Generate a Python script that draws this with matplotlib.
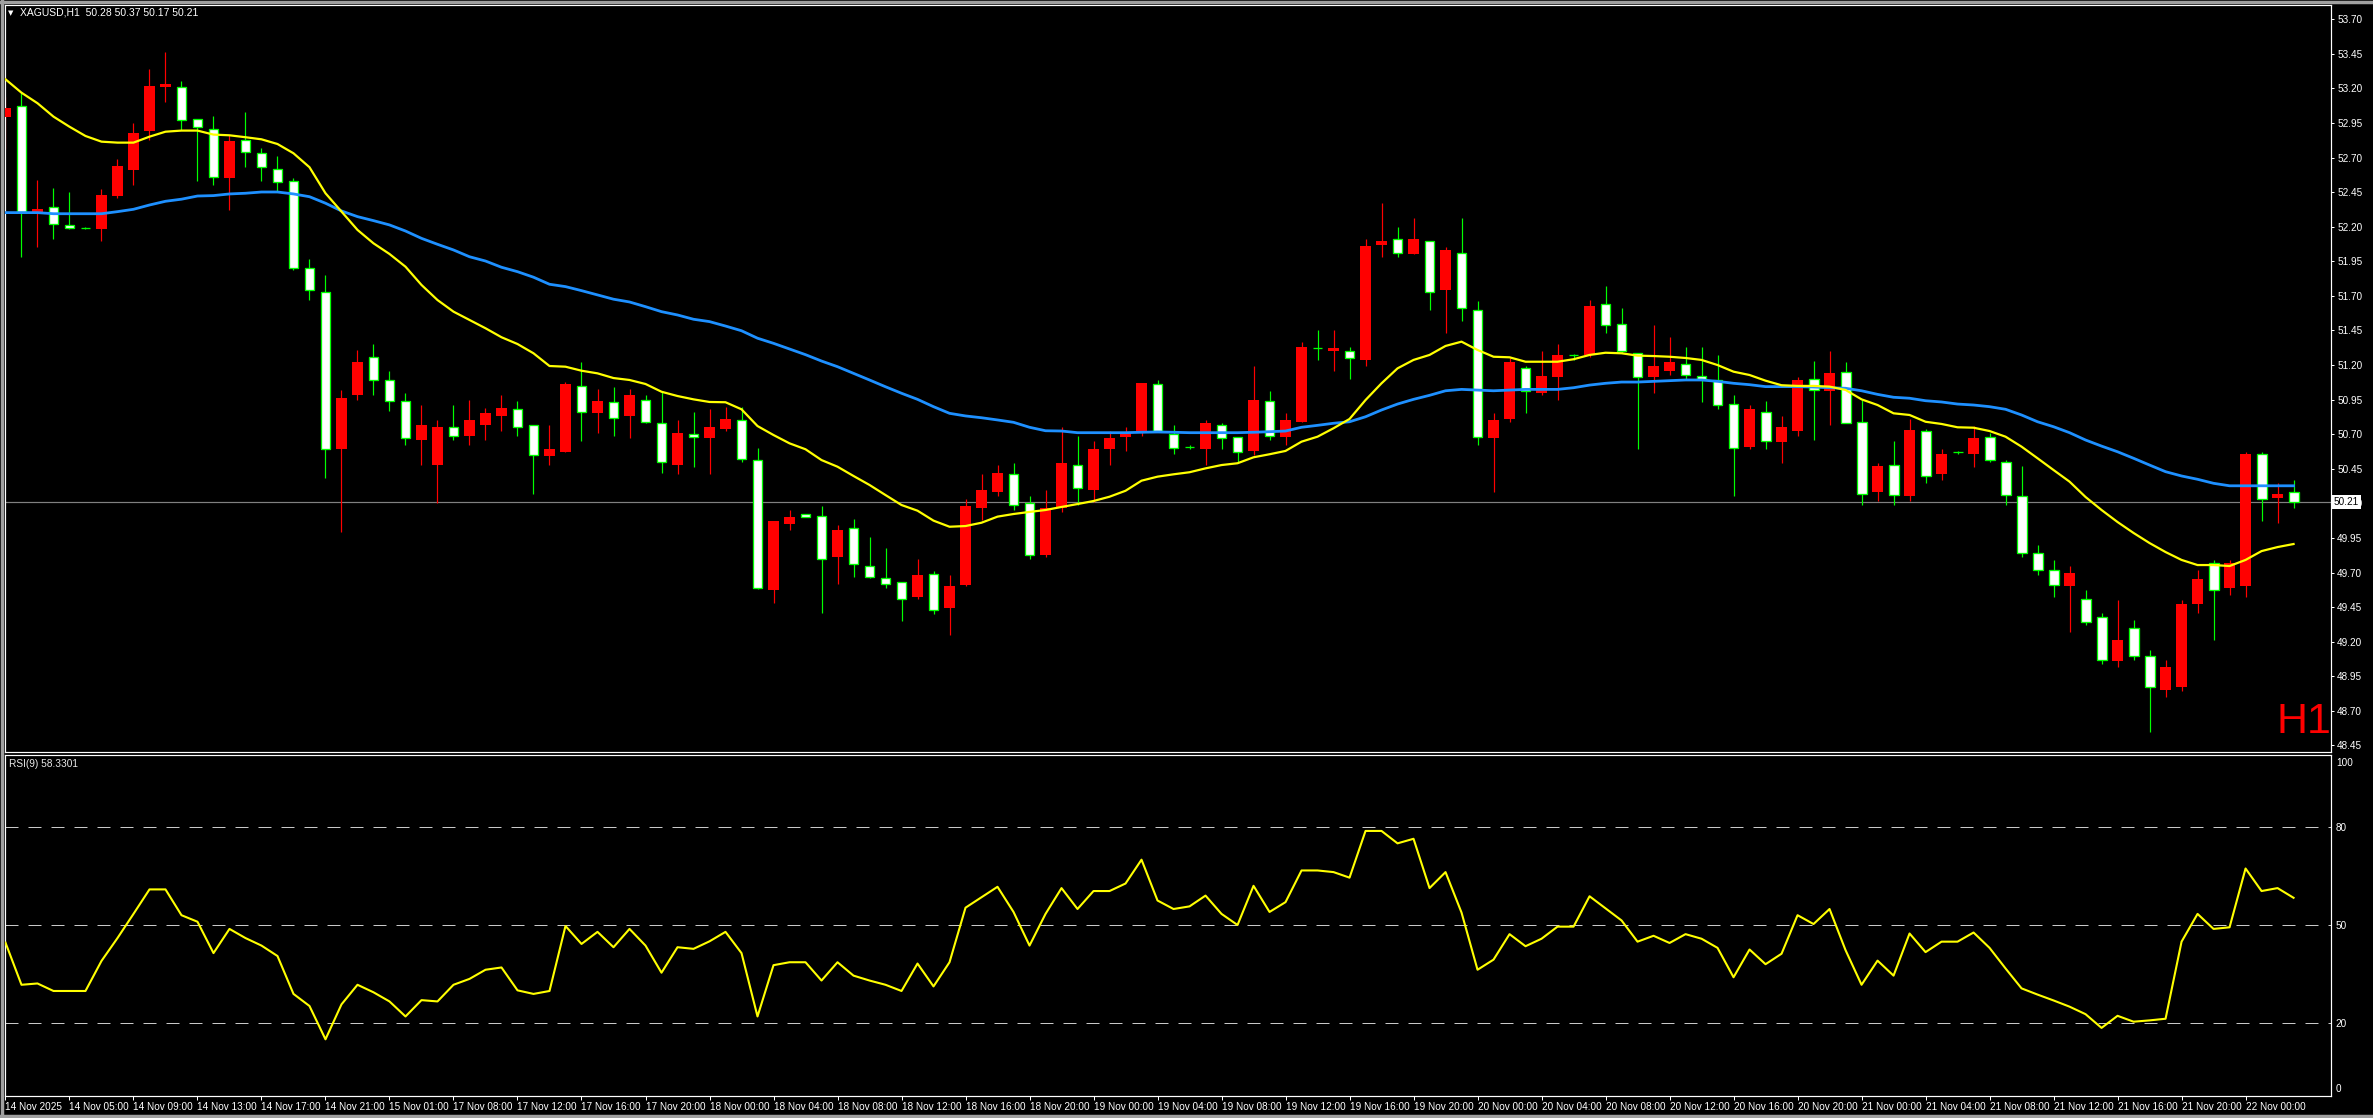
import matplotlib.pyplot as plt
from matplotlib.lines import Line2D
import numpy as np

plt.rcParams['font.family'] = ['Liberation Sans Narrow', 'Liberation Sans', 'DejaVu Sans']
plt.rcParams['font.size'] = 7.2

W, H = 2373, 1118
px = 72 / 100  # one pixel in points

# XAGUSD H1 candles, 14 Nov 01:00 .. 22 Nov 03:00
opens = [52.99, 53.07, 52.31, 52.34, 52.21, 52.19, 52.18, 52.42, 52.61, 52.89,
         53.21, 53.21, 52.98, 52.91, 52.55, 52.83, 52.73, 52.62, 52.53, 51.90,
         51.73, 50.59, 50.98, 51.26, 51.09, 50.94, 50.66, 50.48, 50.75, 50.69,
         50.77, 50.83, 50.88, 50.77, 50.54, 50.57, 51.05, 50.85, 50.93, 50.83,
         50.95, 50.78, 50.48, 50.70, 50.67, 50.74, 50.80, 50.51, 49.57, 50.05,
         50.12, 50.11, 49.81, 50.02, 49.75, 49.66, 49.63, 49.52, 49.69, 49.44,
         49.61, 50.17, 50.28, 50.41, 50.20, 49.83, 50.17, 50.48, 50.30, 50.59,
         50.68, 50.72, 51.06, 50.70, 50.61, 50.59, 50.77, 50.68, 50.58, 50.94,
         50.68, 50.79, 51.32, 51.30, 51.30, 51.24, 52.07, 52.11, 52.00, 52.10,
         51.74, 52.01, 51.60, 50.67, 50.81, 51.18, 51.00, 51.11, 51.27, 51.27,
         51.64, 51.50, 51.29, 51.11, 51.16, 51.21, 51.12, 51.09, 50.92, 50.61,
         50.86, 50.64, 50.72, 51.10, 51.01, 51.15, 50.79, 50.28, 50.48, 50.25,
         50.72, 50.41, 50.57, 50.56, 50.68, 50.50, 50.25, 49.84, 49.72, 49.60,
         49.51, 49.38, 49.06, 49.30, 49.10, 48.85, 48.87, 49.47, 49.77, 49.59,
         49.60, 50.56, 50.24, 50.28]
highs = [53.14, 53.17, 52.54, 52.48, 52.45, 52.20, 52.47, 52.69, 52.95, 53.34,
         53.46, 53.25, 52.98, 53.00, 52.86, 53.03, 52.77, 52.71, 52.55, 51.97,
         51.85, 51.02, 51.31, 51.35, 51.16, 51.00, 50.91, 50.80, 50.91, 50.95,
         50.89, 50.98, 50.94, 50.77, 50.77, 51.08, 51.22, 51.03, 51.04, 51.03,
         50.98, 51.01, 50.80, 50.86, 50.88, 50.90, 50.90, 50.60, 50.07, 50.15,
         50.12, 50.18, 50.04, 50.09, 49.96, 49.88, 49.63, 49.80, 49.71, 49.68,
         50.23, 50.41, 50.48, 50.49, 50.25, 50.30, 50.75, 50.69, 50.65, 50.72,
         50.75, 51.07, 51.09, 50.77, 50.62, 50.80, 50.78, 50.68, 51.19, 51.01,
         50.85, 51.37, 51.45, 51.45, 51.33, 52.11, 52.37, 52.20, 52.26, 52.10,
         52.05, 52.26, 51.66, 50.85, 51.25, 51.19, 51.30, 51.35, 51.28, 51.67,
         51.77, 51.61, 51.29, 51.49, 51.40, 51.33, 51.33, 51.27, 50.98, 50.91,
         50.94, 50.83, 51.11, 51.23, 51.30, 51.22, 50.95, 50.49, 50.65, 50.81,
         50.74, 50.59, 50.58, 50.76, 50.71, 50.51, 50.47, 49.90, 49.79, 49.75,
         49.57, 49.41, 49.50, 49.36, 49.14, 49.07, 49.50, 49.72, 49.79, 49.79,
         50.57, 50.57, 50.35, 50.37]
lows = [52.76, 51.98, 52.05, 52.11, 52.18, 52.18, 52.10, 52.41, 52.50, 52.83,
        53.10, 52.90, 52.53, 52.50, 52.32, 52.63, 52.53, 52.45, 51.89, 51.67,
        50.38, 49.99, 50.95, 50.98, 50.87, 50.62, 50.48, 50.20, 50.66, 50.62,
        50.66, 50.72, 50.69, 50.27, 50.48, 50.57, 50.65, 50.71, 50.69, 50.67,
        50.78, 50.42, 50.41, 50.46, 50.41, 50.72, 50.50, 49.58, 49.48, 50.01,
        50.10, 49.41, 49.62, 49.67, 49.66, 49.59, 49.35, 49.51, 49.40, 49.25,
        49.60, 50.08, 50.25, 50.15, 49.80, 49.81, 50.14, 50.19, 50.21, 50.48,
        50.58, 50.69, 50.72, 50.56, 50.59, 50.48, 50.59, 50.50, 50.55, 50.66,
        50.62, 50.79, 51.24, 51.16, 51.10, 51.19, 51.98, 51.98, 52.00, 51.60,
        51.43, 51.52, 50.62, 50.28, 50.79, 50.85, 50.98, 50.95, 51.24, 51.26,
        51.43, 51.29, 50.59, 51.00, 51.13, 51.09, 50.93, 50.88, 50.25, 50.59,
        50.59, 50.49, 50.69, 50.66, 50.77, 50.78, 50.19, 50.22, 50.19, 50.22,
        50.35, 50.37, 50.56, 50.46, 50.50, 50.19, 49.81, 49.68, 49.52, 49.27,
        49.32, 49.04, 49.02, 49.07, 48.55, 48.80, 48.84, 49.41, 49.21, 49.54,
        49.52, 50.07, 50.06, 50.17]
closes = [53.06, 52.31, 52.33, 52.22, 52.19, 52.19, 52.43, 52.64, 52.88, 53.22,
          53.23, 52.97, 52.92, 52.56, 52.82, 52.74, 52.63, 52.52, 51.90, 51.74,
          50.59, 50.96, 51.22, 51.09, 50.94, 50.67, 50.77, 50.75, 50.69, 50.80,
          50.85, 50.89, 50.75, 50.55, 50.59, 51.06, 50.86, 50.94, 50.82, 50.98,
          50.79, 50.50, 50.71, 50.68, 50.75, 50.81, 50.52, 49.59, 50.07, 50.10,
          50.10, 49.80, 50.01, 49.76, 49.67, 49.62, 49.51, 49.68, 49.43, 49.60,
          50.18, 50.30, 50.42, 50.19, 49.83, 50.17, 50.49, 50.31, 50.59, 50.67,
          50.71, 51.07, 50.72, 50.60, 50.61, 50.78, 50.67, 50.57, 50.95, 50.69,
          50.80, 51.33, 51.32, 51.32, 51.25, 52.06, 52.10, 52.01, 52.11, 51.73,
          52.03, 51.61, 50.68, 50.80, 51.22, 51.01, 51.12, 51.27, 51.27, 51.63,
          51.49, 51.30, 51.11, 51.19, 51.22, 51.13, 51.10, 50.91, 50.60, 50.88,
          50.65, 50.75, 51.09, 51.02, 51.14, 50.78, 50.27, 50.47, 50.26, 50.73,
          50.40, 50.56, 50.57, 50.67, 50.51, 50.26, 49.84, 49.72, 49.61, 49.70,
          49.34, 49.07, 49.21, 49.10, 48.87, 49.02, 49.47, 49.65, 49.57, 49.77,
          50.56, 50.23, 50.27, 50.21]

# moving averages as drawn on the chart (yellow fast, blue slow)
ma_fast = [53.266, 53.169, 53.093, 52.996, 52.923, 52.856, 52.815, 52.808, 52.808, 52.851,
           52.887, 52.895, 52.895, 52.866, 52.861, 52.847, 52.832, 52.798, 52.731, 52.630,
           52.442, 52.309, 52.177, 52.080, 52.003, 51.911, 51.779, 51.670, 51.586, 51.526,
           51.466, 51.401, 51.352, 51.285, 51.193, 51.188, 51.159, 51.140, 51.106, 51.092,
           51.063, 51.007, 50.976, 50.952, 50.933, 50.931, 50.880, 50.759, 50.694, 50.634,
           50.591, 50.513, 50.465, 50.398, 50.333, 50.260, 50.188, 50.147, 50.075, 50.031,
           50.036, 50.060, 50.104, 50.123, 50.138, 50.152, 50.174, 50.195, 50.217, 50.248,
           50.291, 50.364, 50.393, 50.410, 50.425, 50.453, 50.477, 50.490, 50.533, 50.555,
           50.579, 50.646, 50.682, 50.743, 50.810, 50.947, 51.068, 51.176, 51.237, 51.273,
           51.338, 51.369, 51.309, 51.260, 51.256, 51.224, 51.224, 51.224, 51.242, 51.273,
           51.289, 51.285, 51.268, 51.265, 51.260, 51.251, 51.237, 51.200, 51.152, 51.128,
           51.087, 51.054, 51.049, 51.049, 51.044, 51.020, 50.952, 50.911, 50.851, 50.839,
           50.790, 50.774, 50.750, 50.747, 50.723, 50.682, 50.610, 50.526, 50.441, 50.357,
           50.246, 50.152, 50.065, 49.986, 49.913, 49.848, 49.791, 49.754, 49.754, 49.747,
           49.791, 49.855, 49.884, 49.906]
ma_slow = [52.302, 52.302, 52.302, 52.294, 52.294, 52.294, 52.294, 52.309, 52.326, 52.357,
           52.384, 52.399, 52.422, 52.425, 52.437, 52.442, 52.451, 52.451, 52.437, 52.417,
           52.370, 52.314, 52.273, 52.244, 52.213, 52.169, 52.116, 52.073, 52.032, 51.983,
           51.952, 51.907, 51.875, 51.835, 51.784, 51.767, 51.738, 51.707, 51.676, 51.656,
           51.622, 51.586, 51.562, 51.531, 51.514, 51.482, 51.448, 51.394, 51.357, 51.316,
           51.275, 51.229, 51.188, 51.140, 51.092, 51.043, 50.996, 50.952, 50.899, 50.851,
           50.832, 50.819, 50.803, 50.786, 50.750, 50.725, 50.723, 50.711, 50.711, 50.711,
           50.711, 50.714, 50.716, 50.714, 50.711, 50.711, 50.711, 50.711, 50.714, 50.718,
           50.723, 50.750, 50.764, 50.779, 50.790, 50.826, 50.875, 50.918, 50.952, 50.981,
           51.014, 51.024, 51.019, 51.014, 51.019, 51.024, 51.024, 51.024, 51.036, 51.055,
           51.068, 51.077, 51.077, 51.082, 51.087, 51.092, 51.092, 51.082, 51.068, 51.058,
           51.044, 51.044, 51.044, 51.041, 51.036, 51.032, 51.014, 50.988, 50.967, 50.960,
           50.942, 50.933, 50.918, 50.911, 50.899, 50.880, 50.839, 50.790, 50.754, 50.711,
           50.658, 50.614, 50.573, 50.526, 50.477, 50.429, 50.398, 50.374, 50.345, 50.327,
           50.327, 50.327, 50.327, 50.327]

rsi = [44.6, 31.7, 32.1, 29.8, 29.8, 29.8, 39.0, 46.0, 53.4, 60.9,
       60.9, 53.0, 51.0, 41.4, 48.8, 46.0, 43.7, 40.5, 28.9, 25.2,
       15.0, 25.7, 31.7, 29.4, 26.6, 22.0, 27.0, 26.6, 31.7, 33.5,
       36.3, 37.0, 30.0, 28.9, 29.8, 49.7, 44.2, 47.9, 43.2, 48.8,
       43.7, 35.4, 43.2, 42.7, 45.0, 47.9, 41.4, 22.0, 37.7, 38.6,
       38.6, 33.0, 38.6, 34.5, 33.0, 31.7, 29.8, 38.2, 31.2, 38.6,
       55.3, 58.5, 61.7, 54.0, 43.7, 53.4, 61.3, 54.9, 60.4, 60.4,
       62.7, 70.0, 57.5, 54.9, 55.7, 59.0, 53.4, 50.0, 62.0, 54.0,
       57.0, 66.7, 66.7, 66.2, 64.5, 78.8, 78.8, 75.0, 76.4, 61.3,
       66.2, 53.8, 36.3, 39.4, 47.2, 43.5, 45.8, 49.5, 49.5, 58.8,
       55.1, 51.4, 44.9, 46.7, 44.5, 47.2, 45.8, 43.0, 34.0, 42.5,
       38.0, 41.2, 53.0, 50.3, 54.9, 42.3, 31.7, 39.1, 34.5, 47.4,
       41.7, 44.9, 44.9, 47.7, 43.0, 36.7, 30.6, 28.7, 26.9, 25.0,
       22.7, 18.5, 22.2, 20.4, 20.8, 21.3, 44.9, 53.4, 48.8, 49.3,
       67.3, 60.4, 61.3, 58.33]

time_labels = ['14 Nov 2025', '14 Nov 05:00', '14 Nov 09:00', '14 Nov 13:00', '14 Nov 17:00',
               '14 Nov 21:00', '15 Nov 01:00', '17 Nov 08:00', '17 Nov 12:00', '17 Nov 16:00',
               '17 Nov 20:00', '18 Nov 00:00', '18 Nov 04:00', '18 Nov 08:00', '18 Nov 12:00',
               '18 Nov 16:00', '18 Nov 20:00', '19 Nov 00:00', '19 Nov 04:00', '19 Nov 08:00',
               '19 Nov 12:00', '19 Nov 16:00', '19 Nov 20:00', '20 Nov 00:00', '20 Nov 04:00',
               '20 Nov 08:00', '20 Nov 12:00', '20 Nov 16:00', '20 Nov 20:00', '21 Nov 00:00',
               '21 Nov 04:00', '21 Nov 08:00', '21 Nov 12:00', '21 Nov 16:00', '21 Nov 20:00',
               '22 Nov 00:00']

last_price = 50.21

o = np.array(opens)
h = np.array(highs)
l = np.array(lows)
c = np.array(closes)
n = len(c)
x = np.arange(n)
up = c > o

fig = plt.figure(figsize=(W / 100, H / 100), dpi=100, facecolor='black')
ax = fig.add_axes([5 / W, 1 - 751.5 / H, 2326 / W, 746.5 / H], facecolor='black')
ax2 = fig.add_axes([5 / W, 1 - 1095.5 / H, 2326 / W, 340.5 / H], facecolor='black')

# price panel
ax.axhline(last_price, color='#808080', lw=px * 1.2, zorder=1)
ax.vlines(x[up], l[up], h[up], color='red', lw=px * 1.2, zorder=2)
ax.vlines(x[~up], l[~up], h[~up], color='#00ff00', lw=px * 1.2, zorder=2)
ax.bar(x[up], (c - o)[up], bottom=o[up], width=0.68, color='red', lw=0, zorder=3)
ax.bar(x[~up], (o - c)[~up], bottom=c[~up], width=0.62, color='white',
       edgecolor='#00ff00', lw=px * 1.3, zorder=3)
ax.plot(x, ma_slow, color='#1e90ff', lw=2.0, zorder=4)
ax.plot(x, ma_fast, color='#ffff00', lw=1.6, zorder=5)

ax.set_xlim(-0.03, 145.34)
ax.set_ylim(48.406, 53.803)
ax.set_xticks([])
ax.yaxis.tick_right()
ax.set_yticks(np.arange(48.45, 53.71, 0.25))
ax.yaxis.set_major_formatter('{x:.2f}')
ax.tick_params(axis='y', colors='white', length=2.2, width=px, pad=2.2, labelsize=7.2)

# RSI panel
for lvl in (20, 50, 80):
    ax2.axhline(lvl, color='#c8c8c8', lw=px, dashes=(13, 10), zorder=1)
ax2.plot(x, rsi, color='#ffff00', lw=1.5, zorder=3)
ax2.set_xlim(-0.03, 145.34)
ax2.set_ylim(-2.2, 102.05)
ax2.yaxis.tick_right()
ax2.set_yticks([0, 20, 50, 80, 100])
ax2.tick_params(axis='y', colors='white', length=0, pad=3.5, labelsize=7.2)
ax2.set_xticks(np.arange(0, 4 * len(time_labels), 4))
ax2.set_xticklabels(time_labels, ha='left')
ax2.tick_params(axis='x', colors='white', length=2.9, width=px, pad=1.5, labelsize=7.2)

for a in (ax, ax2):
    for s in a.spines.values():
        s.set_color('white')
        s.set_linewidth(px * 1.2)

# texts
fig.text(11 / W, 1 - 12.7 / H, '\u25bc', family='DejaVu Sans', fontsize=5,
         color='white', ha='center', va='center')
fig.text(20 / W, 1 - 12.7 / H, 'XAGUSD,H1  50.28 50.37 50.17 50.21',
         color='white', va='center', fontsize=7.5)
fig.text(9 / W, 1 - 764 / H, 'RSI(9) 58.3301', color='#e8e8e8', va='center', fontsize=7.3)
fig.text(2276 / W, 1 - 733 / H, 'H1', color='red', fontsize=31,
         family='Liberation Sans', va='baseline')
fig.text(2334 / W, 1 - 501.5 / H, f'{last_price:.2f}', color='black', va='center',
         fontsize=7.2, bbox=dict(boxstyle='square,pad=0.2', fc='white', ec='none'))

# window frame
for xs, ys in (([0.0008, 0.0008], [0, 1]), ([0, 1], [0.9985, 0.9985]), ([0, 1], [0.0015, 0.0015])):
    fig.add_artist(Line2D(xs, ys, transform=fig.transFigure, color='#a0a0a0', lw=2.5))

fig.savefig('out.png', dpi=100, facecolor='black')
